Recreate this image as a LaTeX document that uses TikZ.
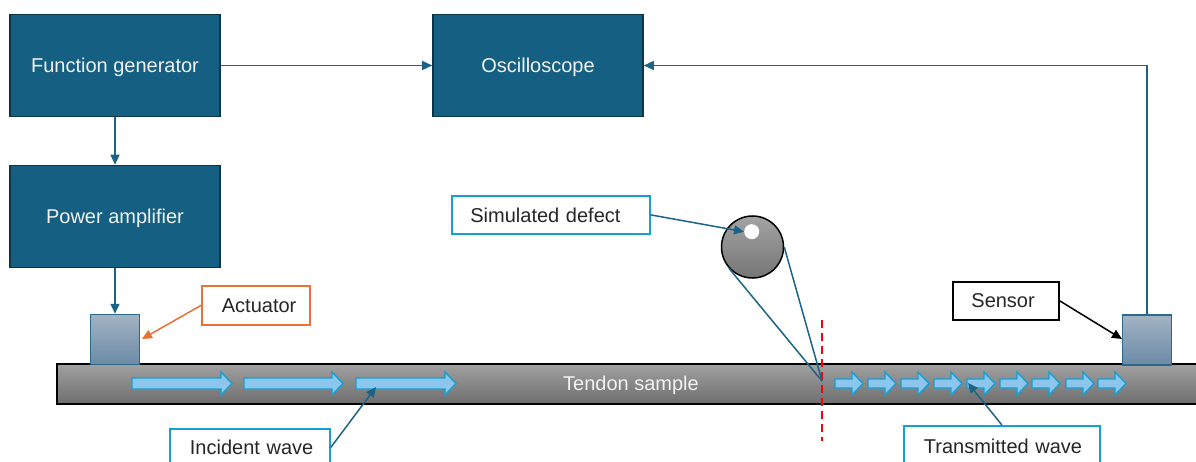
\documentclass[tikz,border=0pt]{standalone}
\usepackage{fontspec}
\setmainfont{Liberation Sans}
\usetikzlibrary{arrows.meta}
\definecolor{boxfill}{HTML}{156082}
\definecolor{boxline}{HTML}{0E3547}
\definecolor{conn}{HTML}{1B6486}
\definecolor{orng}{HTML}{E97132}
\definecolor{cyanl}{HTML}{159FD6}
\definecolor{wavefill}{HTML}{8DC6EC}
\definecolor{txtw}{HTML}{F2F2F2}
\definecolor{transtop}{HTML}{A2B3C3}
\definecolor{transbot}{HTML}{6C8AA6}
\definecolor{transline}{HTML}{2A6A8C}
\newcommand\wavearrow[5]{% x, length, head length, shaft half, head half
  \draw[wavearr] (#1,{383.5-#4}) -- ({#1+#2-#3},{383.5-#4}) -- ({#1+#2-#3},{383.5-#5})
    -- ({#1+#2},383.5) -- ({#1+#2-#3},{383.5+#5}) -- ({#1+#2-#3},{383.5+#4})
    -- (#1,{383.5+#4}) -- cycle;}
\begin{document}
\begin{tikzpicture}[x=1pt,y=-1pt,
  font=\fontsize{20}{24}\selectfont,
  block/.style={draw=boxline,line width=1.6pt,fill=boxfill,text=txtw,
    minimum width=210pt,minimum height=102pt,inner sep=0pt,text depth=0pt},
  transducer/.style={draw=transline,line width=1.5pt,top color=transtop,bottom color=transbot,
    minimum width=49pt,minimum height=50pt,inner sep=0pt},
  lbl/.style={draw,line width=1.8pt,fill=white,text=black!85,anchor=north west,
    align=left,inner sep=0pt},
  conn/.style={draw=conn,line width=1.5pt,-{Triangle[length=10pt,width=9pt]}},
  wavearr/.style={draw=cyanl,line width=1.4pt,fill=wavefill},
]
\useasboundingbox (0,0) rectangle (1196,462);

% blocks
\node[block] (fg) at (115,65.5) {Function generator};
\node[block] (osc) at (538,65.5) {Oscilloscope};
\node[block] (pa) at (115,216.5) {Power amplifier};

% tendon
\draw[line width=1.5pt,top color=black!37,bottom color=black!57] (57,364) rectangle (1215,404);
\node[text=txtw,text depth=0pt] (tendon) at (631,383) {Tendon sample};

% transducers
\node[transducer] (act) at (115,339.5) {};
\node[transducer] (sen) at (1147,340) {};

% connectors between instruments
\draw[conn] (fg.south) -- (pa.north);
\draw[conn] (fg.east) -- (osc.west);
\draw[conn] (pa.south) -- (act.north);
\draw[conn] (sen.north) |- (osc.east);

% incident wave arrows
\wavearrow{132}{100}{11}{5.5}{11.5}
\wavearrow{244}{99}{11}{5.5}{11.5}
\wavearrow{356}{100}{11}{5.5}{11.5}

% transmitted wave arrows
\foreach \xx in {835,868,901,934,967,1000,1032,1066,1098}{
  \wavearrow{\xx}{28}{11}{4.5}{11.5}
}

% defect
\node[circle,draw=black,line width=1.5pt,top color=black!36,bottom color=black!54,
  minimum size=62pt,inner sep=0pt] (defect) at (752.5,247) {};
\node[circle,fill=white,minimum size=15pt,inner sep=0pt] (hole) at (751.7,231.7) {};
\coordinate (hit) at (822,381);
\draw[red,line width=1.8pt,dash pattern=on 8pt off 5pt] (822,320) -- (822,441);
\draw[conn,-] (defect.222) -- (hit);
\draw[conn,-] (defect.0) -- (hit);

% labels
\node[lbl,draw=orng,minimum width=108pt,minimum height=39pt,text width=94pt]
  (actl) at (201,285) {\hspace*{13pt}Actuator};
\node[lbl,draw=cyanl,minimum width=198pt,minimum height=38pt,text width=185pt]
  (defl) at (451,195) {\hspace*{12pt}Simulated defect};
\node[lbl,draw=black,minimum width=106pt,minimum height=38pt,text width=93pt]
  (senl) at (952,281) {\hspace*{12pt}Sensor};
\node[lbl,draw=cyanl,minimum width=160pt,minimum height=37pt,text width=146pt]
  (incl) at (169,428) {\hspace*{13pt}Incident wave};
\node[lbl,draw=cyanl,minimum width=196pt,minimum height=40pt,text width=182pt]
  (trl) at (903,425) {\hspace*{13pt}Transmitted wave};

% label pointers
\coordinate (actp) at (142,339);
\coordinate (incp) at (376,387);
\coordinate (trp) at (968,383);
\coordinate (senp) at (1122,339);
\draw[conn,draw=orng] (actl.west) -- (actp);
\draw[conn] (defl.east) -- (hole.west);
\draw[conn,draw=black] (senl.east) -- (senp);
\draw[conn] (incl.east) -- (incp);
\draw[conn] (trl.north) -- (trp);
\end{tikzpicture}
\end{document}
